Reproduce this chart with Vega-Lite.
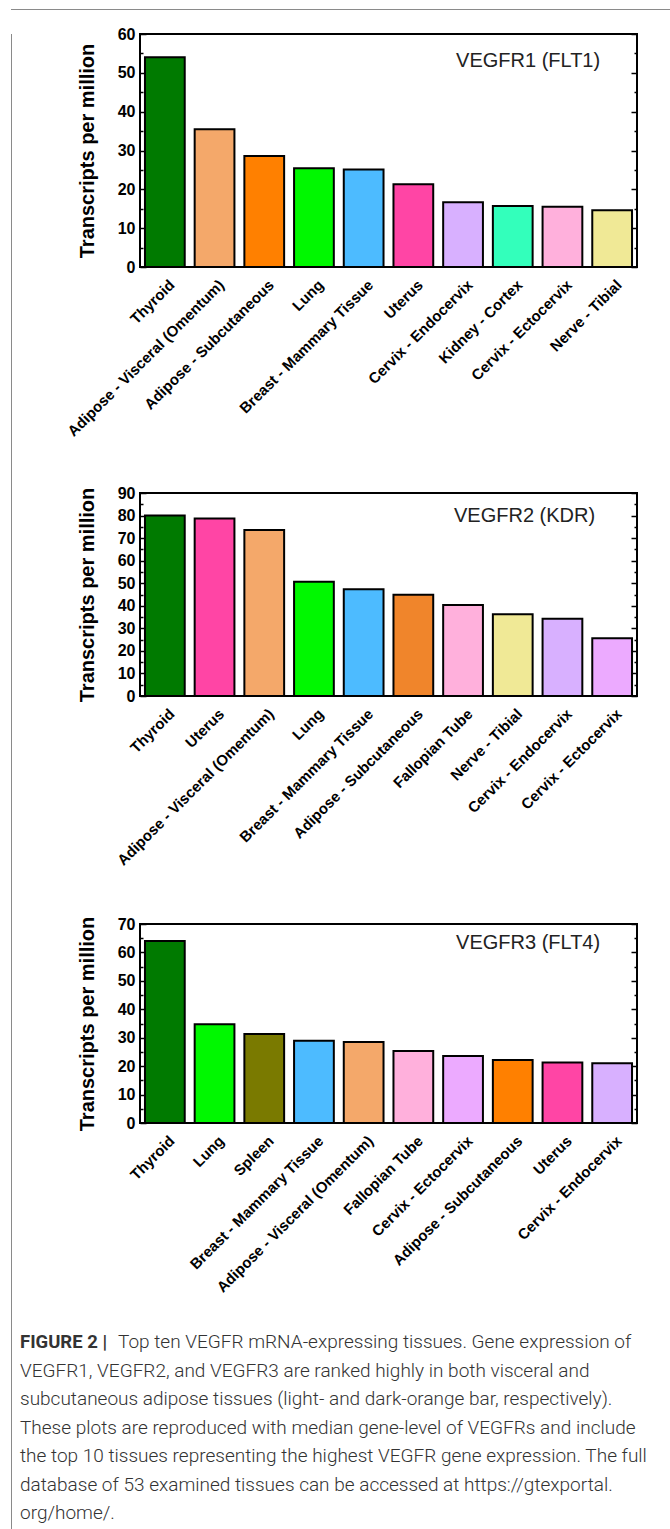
{
  "$schema": "https://vega.github.io/schema/vega-lite/v6.json",
  "padding": {"left": 11, "top": 9, "right": 0, "bottom": 0},
  "background": "white",
  "config": {
    "view": {"stroke": "black", "strokeWidth": 2},
    "font": "Liberation Sans",
    "axis": {"grid": false}
  },
  "datasets": {
    "vegfr1": [
      {"tissue": "Thyroid", "tpm": 54.0},
      {"tissue": "Adipose - Visceral (Omentum)", "tpm": 35.5},
      {"tissue": "Adipose - Subcutaneous", "tpm": 28.6},
      {"tissue": "Lung", "tpm": 25.4},
      {"tissue": "Breast - Mammary Tissue", "tpm": 25.1},
      {"tissue": "Uterus", "tpm": 21.3},
      {"tissue": "Cervix - Endocervix", "tpm": 16.7},
      {"tissue": "Kidney - Cortex", "tpm": 15.7},
      {"tissue": "Cervix - Ectocervix", "tpm": 15.5},
      {"tissue": "Nerve - Tibial", "tpm": 14.6}
    ],
    "vegfr2": [
      {"tissue": "Thyroid", "tpm": 80.0},
      {"tissue": "Uterus", "tpm": 78.7},
      {"tissue": "Adipose - Visceral (Omentum)", "tpm": 73.6},
      {"tissue": "Lung", "tpm": 50.6},
      {"tissue": "Breast - Mammary Tissue", "tpm": 47.3},
      {"tissue": "Adipose - Subcutaneous", "tpm": 44.9},
      {"tissue": "Fallopian Tube", "tpm": 40.4},
      {"tissue": "Nerve - Tibial", "tpm": 36.2},
      {"tissue": "Cervix - Endocervix", "tpm": 34.2},
      {"tissue": "Cervix - Ectocervix", "tpm": 25.6}
    ],
    "vegfr3": [
      {"tissue": "Thyroid", "tpm": 64.0},
      {"tissue": "Lung", "tpm": 34.7},
      {"tissue": "Spleen", "tpm": 31.3},
      {"tissue": "Breast - Mammary Tissue", "tpm": 28.9},
      {"tissue": "Adipose - Visceral (Omentum)", "tpm": 28.5},
      {"tissue": "Fallopian Tube", "tpm": 25.3},
      {"tissue": "Cervix - Ectocervix", "tpm": 23.6},
      {"tissue": "Adipose - Subcutaneous", "tpm": 22.2},
      {"tissue": "Uterus", "tpm": 21.3},
      {"tissue": "Cervix - Endocervix", "tpm": 21.0}
    ],
    "caption": [
      {"line": 1, "style": "bold", "text": "FIGURE 2 |"},
      {"line": 1, "style": "lead", "text": "Top ten VEGFR mRNA-expressing tissues. Gene expression of"},
      {"line": 2, "style": "normal", "text": "VEGFR1, VEGFR2, and VEGFR3 are ranked highly in both visceral and"},
      {"line": 3, "style": "normal", "text": "subcutaneous adipose tissues (light- and dark-orange bar, respectively)."},
      {"line": 4, "style": "normal", "text": "These plots are reproduced with median gene-level of VEGFRs and include"},
      {"line": 5, "style": "normal", "text": "the top 10 tissues representing the highest VEGFR gene expression. The full"},
      {"line": 6, "style": "normal", "text": "database of 53 examined tissues can be accessed at https://gtexportal."},
      {"line": 7, "style": "normal", "text": "org/home/."}
    ]
  },
  "spacing": 0,
  "vconcat": [
    {
      "width": 659, "height": 1,
      "data": {"values": []},
      "mark": {"type": "rule"},
      "encoding": {},
      "view": {"stroke": null, "fill": "#8a8a8a"}
    },
    {
      "spacing": 8,
      "hconcat": [
        {
          "width": 1, "height": 1519,
          "data": {"values": []},
          "mark": {"type": "rule"},
          "encoding": {},
          "view": {"stroke": null, "fill": "#8a8a8a"}
        },
        {
          "spacing": 37,
          "resolve": {"scale": {"x": "independent", "y": "independent", "color": "independent"}},
          "vconcat": [
            {
              "width": 497, "height": 233,
              "title": {"text": " ", "fontSize": 15, "offset": 0},
              "resolve": {"axis": {"y": "independent"}},
              "layer": [
                {
                  "data": {"name": "vegfr1"},
                  "mark": {"type": "bar", "stroke": "black", "strokeWidth": 2},
                  "encoding": {
                    "x": {"field": "tissue", "type": "nominal", "sort": null,
                      "scale": {"domain": ["Thyroid","Adipose - Visceral (Omentum)","Adipose - Subcutaneous","Lung","Breast - Mammary Tissue","Uterus","Cervix - Endocervix","Kidney - Cortex","Cervix - Ectocervix","Nerve - Tibial"], "paddingInner": 0.2, "paddingOuter": 0.1},
                      "axis": {"title": null, "labelAngle": -45, "labelAlign": "right", "labelBaseline": "middle", "labelFontSize": 15, "labelFontWeight": "bold", "labelColor": "black", "labelLimit": 0, "ticks": false, "domain": false, "labelPadding": 15, "labelOffset": 7}},
                    "y": {"field": "tpm", "type": "quantitative",
                      "scale": {"domain": [0, 60], "nice": false},
                      "axis": {"orient": "left", "values": [0,5,10,15,20,25,30,35,40,45,50,55,60], "labelExpr": "datum.value % 10 === 0 ? datum.label : ''", "tickSize": {"condition": {"test": "datum.value % 10 === 0", "value": -6}, "value": -3}, "tickColor": "black", "tickWidth": 1.5, "domain": false, "labelFontWeight": "bold", "labelFontSize": 16, "labelColor": "black", "labelPadding": 11, "title": "Transcripts per million", "titleFontSize": 20, "titleFontWeight": "bold", "titleColor": "black", "titlePadding": 20}},
                    "color": {"field": "tissue", "type": "nominal", "legend": null,
                      "scale": {"domain": ["Thyroid","Adipose - Visceral (Omentum)","Adipose - Subcutaneous","Lung","Breast - Mammary Tissue","Uterus","Cervix - Endocervix","Kidney - Cortex","Cervix - Ectocervix","Nerve - Tibial"],
                        "range": ["#007a00","#f4a86a","#ff8000","#00f800","#4dbbff","#ff45a5","#d8b0ff","#33ffbb","#ffb0dc","#f0e996"]}}
                  }
                },
                {
                  "data": {"values": [{"label": "VEGFR1 (FLT1)"}]},
                  "mark": {"type": "text", "font": "Liberation Sans", "fontSize": 20, "fontWeight": "normal", "align": "right", "baseline": "middle", "dx": -12, "color": "#222"},
                  "encoding": {
                    "x": {"datum": "Nerve - Tibial", "type": "nominal"},
                    "y": {"datum": 53, "type": "quantitative", "axis": {"orient": "right", "values": [0,5,10,15,20,25,30,35,40,45,50,55,60], "labels": false, "tickSize": {"condition": {"test": "datum.value % 10 === 0", "value": -6}, "value": -3}, "tickColor": "black", "tickWidth": 1.5, "domain": false, "title": null}},
                    "text": {"field": "label"}
                  }
                }
              ]
            },
            {
              "width": 497, "height": 203,
              "title": {"text": " ", "fontSize": 7, "offset": 0},
              "resolve": {"axis": {"y": "independent"}},
              "layer": [
                {
                  "data": {"name": "vegfr2"},
                  "mark": {"type": "bar", "stroke": "black", "strokeWidth": 2},
                  "encoding": {
                    "x": {"field": "tissue", "type": "nominal", "sort": null,
                      "scale": {"domain": ["Thyroid","Uterus","Adipose - Visceral (Omentum)","Lung","Breast - Mammary Tissue","Adipose - Subcutaneous","Fallopian Tube","Nerve - Tibial","Cervix - Endocervix","Cervix - Ectocervix"], "paddingInner": 0.2, "paddingOuter": 0.1},
                      "axis": {"title": null, "labelAngle": -45, "labelAlign": "right", "labelBaseline": "middle", "labelFontSize": 15, "labelFontWeight": "bold", "labelColor": "black", "labelLimit": 0, "ticks": false, "domain": false, "labelPadding": 15, "labelOffset": 7}},
                    "y": {"field": "tpm", "type": "quantitative",
                      "scale": {"domain": [0, 90], "nice": false},
                      "axis": {"orient": "left", "values": [0,5,10,15,20,25,30,35,40,45,50,55,60,65,70,75,80,85,90], "labelExpr": "datum.value % 10 === 0 ? datum.label : ''", "tickSize": {"condition": {"test": "datum.value % 10 === 0", "value": -6}, "value": -3}, "tickColor": "black", "tickWidth": 1.5, "domain": false, "labelFontWeight": "bold", "labelFontSize": 16, "labelColor": "black", "labelPadding": 11, "title": "Transcripts per million", "titleFontSize": 20, "titleFontWeight": "bold", "titleColor": "black", "titlePadding": 20}},
                    "color": {"field": "tissue", "type": "nominal", "legend": null,
                      "scale": {"domain": ["Thyroid","Uterus","Adipose - Visceral (Omentum)","Lung","Breast - Mammary Tissue","Adipose - Subcutaneous","Fallopian Tube","Nerve - Tibial","Cervix - Endocervix","Cervix - Ectocervix"],
                        "range": ["#007a00","#ff45a5","#f4a86a","#00f800","#4dbbff","#f0852b","#ffb0dc","#f0e996","#d8b0ff","#ecaaff"]}}
                  }
                },
                {
                  "data": {"values": [{"label": "VEGFR2 (KDR)"}]},
                  "mark": {"type": "text", "font": "Liberation Sans", "fontSize": 20, "fontWeight": "normal", "align": "right", "baseline": "middle", "dx": -17, "color": "#222"},
                  "encoding": {
                    "x": {"datum": "Cervix - Ectocervix", "type": "nominal"},
                    "y": {"datum": 80, "type": "quantitative", "axis": {"orient": "right", "values": [0,5,10,15,20,25,30,35,40,45,50,55,60,65,70,75,80,85,90], "labels": false, "tickSize": {"condition": {"test": "datum.value % 10 === 0", "value": -6}, "value": -3}, "tickColor": "black", "tickWidth": 1.5, "domain": false, "title": null}},
                    "text": {"field": "label"}
                  }
                }
              ]
            },
            {
              "width": 497, "height": 199,
              "title": {"text": " ", "fontSize": 9, "offset": 0},
              "resolve": {"axis": {"y": "independent"}},
              "layer": [
                {
                  "data": {"name": "vegfr3"},
                  "mark": {"type": "bar", "stroke": "black", "strokeWidth": 2},
                  "encoding": {
                    "x": {"field": "tissue", "type": "nominal", "sort": null,
                      "scale": {"domain": ["Thyroid","Lung","Spleen","Breast - Mammary Tissue","Adipose - Visceral (Omentum)","Fallopian Tube","Cervix - Ectocervix","Adipose - Subcutaneous","Uterus","Cervix - Endocervix"], "paddingInner": 0.2, "paddingOuter": 0.1},
                      "axis": {"title": null, "labelAngle": -45, "labelAlign": "right", "labelBaseline": "middle", "labelFontSize": 15, "labelFontWeight": "bold", "labelColor": "black", "labelLimit": 0, "ticks": false, "domain": false, "labelPadding": 15, "labelOffset": 7}},
                    "y": {"field": "tpm", "type": "quantitative",
                      "scale": {"domain": [0, 70], "nice": false},
                      "axis": {"orient": "left", "values": [0,5,10,15,20,25,30,35,40,45,50,55,60,65,70], "labelExpr": "datum.value % 10 === 0 ? datum.label : ''", "tickSize": {"condition": {"test": "datum.value % 10 === 0", "value": -6}, "value": -3}, "tickColor": "black", "tickWidth": 1.5, "domain": false, "labelFontWeight": "bold", "labelFontSize": 16, "labelColor": "black", "labelPadding": 11, "title": "Transcripts per million", "titleFontSize": 20, "titleFontWeight": "bold", "titleColor": "black", "titlePadding": 20}},
                    "color": {"field": "tissue", "type": "nominal", "legend": null,
                      "scale": {"domain": ["Thyroid","Lung","Spleen","Breast - Mammary Tissue","Adipose - Visceral (Omentum)","Fallopian Tube","Cervix - Ectocervix","Adipose - Subcutaneous","Uterus","Cervix - Endocervix"],
                        "range": ["#007a00","#00f800","#7a7a00","#4dbbff","#f4a86a","#ffb0dc","#ecaaff","#ff8000","#ff45a5","#d8b0ff"]}}
                  }
                },
                {
                  "data": {"values": [{"label": "VEGFR3 (FLT4)"}]},
                  "mark": {"type": "text", "font": "Liberation Sans", "fontSize": 20, "fontWeight": "normal", "align": "right", "baseline": "middle", "dx": -12, "color": "#222"},
                  "encoding": {
                    "x": {"datum": "Cervix - Endocervix", "type": "nominal"},
                    "y": {"datum": 63.3, "type": "quantitative", "axis": {"orient": "right", "values": [0,5,10,15,20,25,30,35,40,45,50,55,60,65,70], "labels": false, "tickSize": {"condition": {"test": "datum.value % 10 === 0", "value": -6}, "value": -3}, "tickColor": "black", "tickWidth": 1.5, "domain": false, "title": null}},
                    "text": {"field": "label"}
                  }
                }
              ]
            },
            {
              "width": 497, "height": 171,
              "view": {"stroke": null},
              "data": {"name": "caption"},
              "layer": [
                {
                  "transform": [{"filter": "datum.style === 'bold'"}],
                  "mark": {"type": "text", "align": "left", "baseline": "middle", "font": "Roboto", "fontWeight": "bold", "fontSize": 18.5, "color": "#333", "dx": -120},
                  "encoding": {
                    "x": {"datum": 0, "type": "quantitative", "scale": {"domain": [0, 1]}, "axis": null},
                    "y": {"field": "line", "type": "ordinal", "axis": null, "scale": {"padding": 0}},
                    "text": {"field": "text"}
                  }
                },
                {
                  "transform": [{"filter": "datum.style === 'lead'"}],
                  "mark": {"type": "text", "align": "left", "baseline": "middle", "font": "Roboto", "fontWeight": 300, "fontSize": 19, "color": "#333", "dx": -22},
                  "encoding": {
                    "x": {"datum": 0, "type": "quantitative", "scale": {"domain": [0, 1]}, "axis": null},
                    "y": {"field": "line", "type": "ordinal", "axis": null, "scale": {"padding": 0}},
                    "text": {"field": "text"}
                  }
                },
                {
                  "transform": [{"filter": "datum.style === 'normal'"}],
                  "mark": {"type": "text", "align": "left", "baseline": "middle", "font": "Roboto", "fontWeight": 300, "fontSize": 19, "color": "#333", "dx": -120},
                  "encoding": {
                    "x": {"datum": 0, "type": "quantitative", "scale": {"domain": [0, 1]}, "axis": null},
                    "y": {"field": "line", "type": "ordinal", "axis": null, "scale": {"padding": 0}},
                    "text": {"field": "text"}
                  }
                }
              ]
            }
          ]
        }
      ]
    }
  ]
}
